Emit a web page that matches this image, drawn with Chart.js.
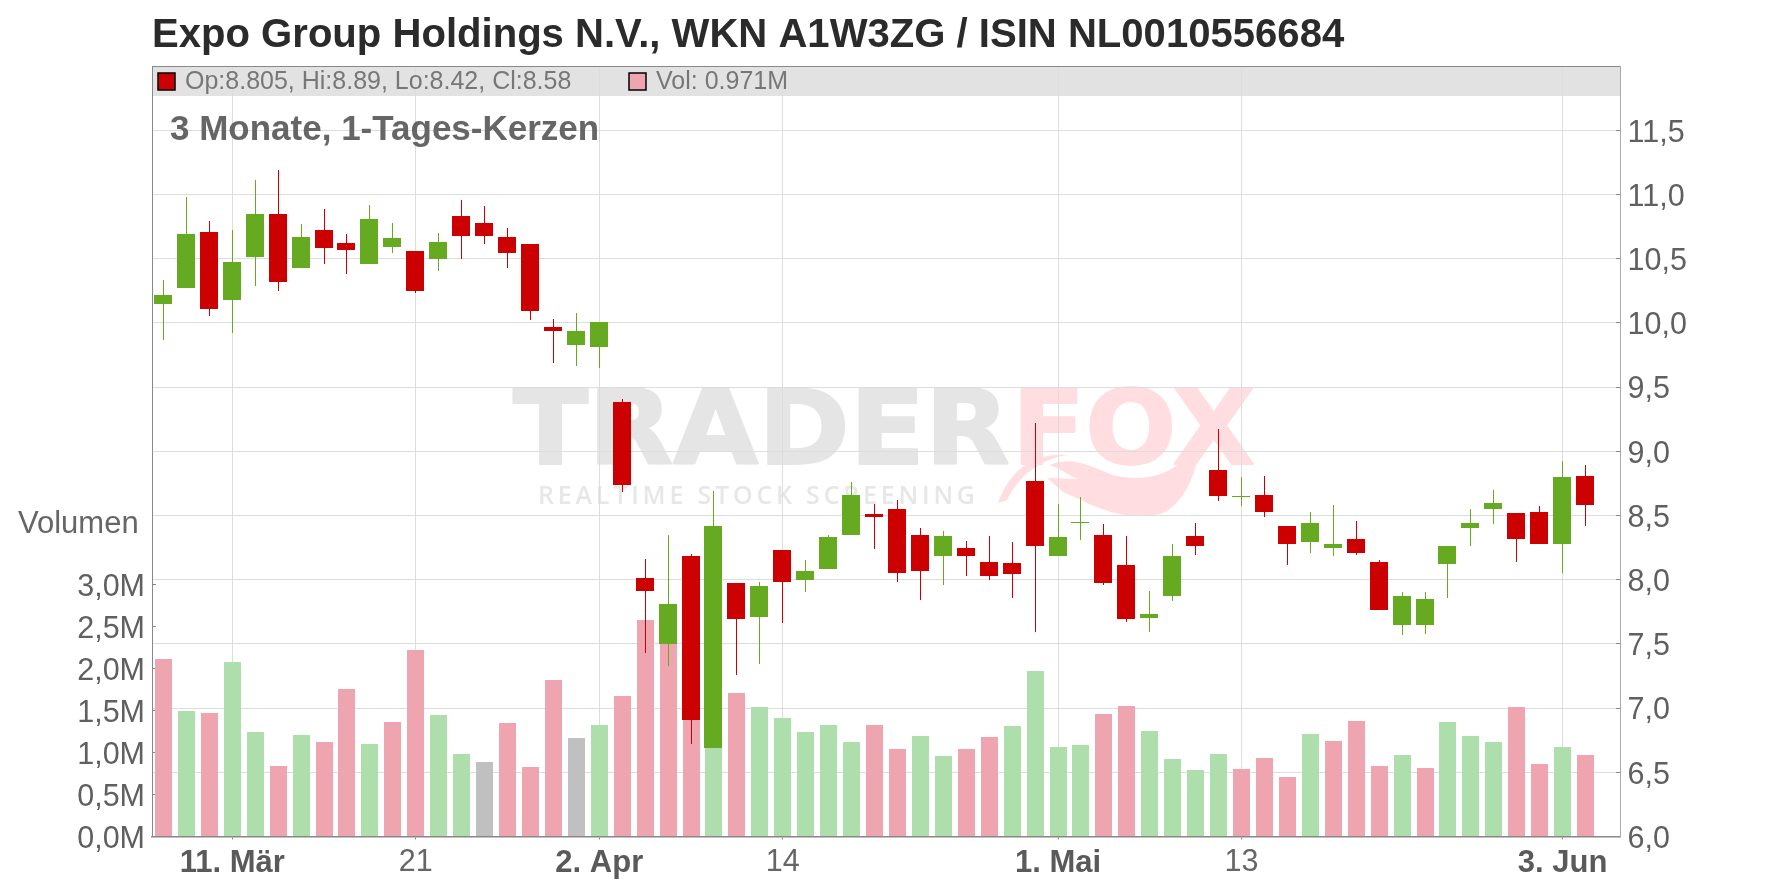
<!DOCTYPE html>
<html>
<head>
<meta charset="utf-8">
<title>Expo Group Holdings</title>
<script src="https://cdn.jsdelivr.net/npm/chart.js@4"></script>
<style>
  html, body { margin: 0; padding: 0; background: #fff; }
  #wrap { width: 1776px; height: 888px; }
</style>
</head>
<body>
<div id="wrap"><canvas id="c" width="1776" height="888"></canvas></div>
<script>
const titleText = 'Expo Group Holdings N.V., WKN A1W3ZG / ISIN NL0010556684';
const subTitle = '3 Monate, 1-Tages-Kerzen';
const legendPrice = 'Op:8.805, Hi:8.89, Lo:8.42, Cl:8.58';
const legendVol = 'Vol: 0.971M';

// one trading day per slot, the last slot stays empty
const tickSlots = [3, 11, 19, 27, 39, 47, 61];
const tickLabels = ['11. Mär', '21', '2. Apr', '14', '1. Mai', '13', '3. Jun'];
const boldLabels = ['11. Mär', '2. Apr', '1. Mai', '3. Jun'];
const slotCount = 64;

const opens = [10.15,10.27,10.71,10.18,10.51,10.85,10.43,10.72,10.62,10.46,10.59,10.56,10.50,10.83,10.78,10.67,
  10.61,9.97,9.83,9.81,9.38,8.01,7.50,8.18,6.69,7.97,7.71,8.23,8.00,8.08,8.35,8.51,
  8.55,8.35,8.18,8.25,8.14,8.13,8.77,8.18,8.44,8.35,8.11,7.70,7.87,8.34,8.85,8.64,
  8.66,8.42,8.29,8.25,8.32,8.14,7.65,7.65,8.12,8.40,8.55,8.52,8.53,8.28,8.805];
const highs = [10.33,10.98,10.79,10.72,11.11,11.19,10.77,10.89,10.69,10.92,10.78,10.56,10.70,10.96,10.91,10.74,
  10.61,10.03,10.08,10.01,9.41,8.16,8.35,8.20,8.69,7.97,7.98,8.23,8.15,8.35,8.76,8.59,
  8.62,8.40,8.38,8.30,8.34,8.29,9.22,8.59,8.64,8.43,8.34,7.91,8.28,8.44,9.17,8.80,
  8.81,8.42,8.53,8.58,8.46,8.15,7.90,7.90,8.26,8.55,8.70,8.52,8.57,8.92,8.89];
const lows = [9.87,10.27,10.05,9.92,10.29,10.25,10.43,10.46,10.38,10.46,10.54,10.23,10.40,10.50,10.61,10.43,
  10.02,9.69,9.66,9.65,8.68,7.43,7.33,6.72,6.69,7.26,7.34,7.66,7.90,8.08,8.35,8.24,
  7.98,7.84,7.96,8.03,8.00,7.86,7.59,8.18,8.31,7.96,7.67,7.59,7.83,8.19,8.61,8.57,
  8.49,8.11,8.21,8.18,8.19,7.76,7.57,7.58,7.86,8.26,8.43,8.14,8.28,8.05,8.42];
const closes = [10.22,10.69,10.11,10.47,10.85,10.32,10.67,10.58,10.57,10.81,10.66,10.25,10.63,10.68,10.68,10.54,
  10.09,9.94,9.94,10.01,8.74,7.91,7.81,6.91,8.42,7.69,7.95,7.98,8.07,8.33,8.66,8.49,
  8.05,8.07,8.34,8.18,8.03,8.04,8.26,8.33,8.45,7.97,7.69,7.73,8.18,8.26,8.65,8.65,
  8.53,8.28,8.44,8.28,8.21,7.76,7.87,7.85,8.26,8.44,8.60,8.32,8.28,8.80,8.58];

// volume in millions; hidden tops behind the big candles (22-24) are estimates
const volumes = [2.11,1.49,1.47,2.075,1.24,0.84,1.21,1.12,1.75,1.10,1.36,2.22,1.44,0.98,0.885,1.35,
  0.825,1.86,1.17,1.325,1.67,2.575,2.55,2.9,3.3,1.706,1.54,1.41,1.24,1.325,1.12,1.325,
  1.04,1.195,0.956,1.04,1.18,1.31,1.97,1.06,1.09,1.456,1.55,1.25,0.92,0.79,0.98,0.80,
  0.93,0.706,1.22,1.135,1.37,0.84,0.97,0.81,1.36,1.195,1.12,1.54,0.86,1.06,0.971];
const volumeTone = ['d','u','d','u','u','d','u','d','d','u','d','d','u','u','n','d',
  'd','d','n','u','d','d','d','d','u','d','u','u','u','u','u','d',
  'd','u','u','d','d','u','u','u','u','d','d','u','u','u','u','d',
  'd','d','u','d','d','d','u','d','u','u','u','d','d','u','d'];

const priceTicks = [6, 6.5, 7, 7.5, 8, 8.5, 9, 9.5, 10, 10.5, 11, 11.5];
const volumeTicks = [0, 0.5, 1, 1.5, 2, 2.5, 3];

const FONT = '"Liberation Sans"';
const RED = '#cc0000', GREEN = '#66aa22';
const toneColour = { d: '#efa5b0', u: '#addeab', n: '#c0c0c0' };

const categories = Array(slotCount).fill('');
tickSlots.forEach((s, i) => { categories[s] = tickLabels[i]; });

const candleColour = opens.map((o, i) => (closes[i] >= o ? GREEN : RED));
const comma = v => v.toFixed(1).replace('.', ',');

// snap bars to whole pixels so wicks stay one crisp pixel wide
const snapBars = {
  id: 'snapBars',
  afterDatasetsUpdate(chart) {
    chart.data.datasets.forEach((d, i) => {
      chart.getDatasetMeta(i).data.forEach(bar => {
        const odd = Math.round(bar.width) % 2 === 1;
        bar.x = Math.floor(bar.x) + (odd ? 0.5 : 0);
        bar.y = Math.round(bar.y);
        bar.base = Math.round(bar.base);
        if (bar.base === bar.y) bar.base = bar.y + 1;
      });
    });
  }
};

function wideText(ctx, text, x, y, stretch) {
  ctx.save();
  ctx.translate(x, y);
  ctx.scale(stretch, 1);
  ctx.strokeText(text, 0, 0);
  ctx.fillText(text, 0, 0);
  ctx.restore();
}

const backdrop = {
  id: 'backdrop',
  beforeDraw(chart) {
    const { ctx, chartArea: a } = chart;
    ctx.save();
    ctx.fillStyle = '#e2e2e2';
    ctx.fillRect(a.left, a.top, a.right - a.left, 30);

    // TraderFox watermark
    ctx.textBaseline = 'alphabetic';
    ctx.textAlign = 'left';
    ctx.lineJoin = 'round';
    ctx.lineWidth = 2;
    ctx.font = 'bold 103px "DejaVu Sans"';
    ctx.fillStyle = ctx.strokeStyle = '#e5e5e5';
    wideText(ctx, 'TRADER', 513, 464, 1.07);
    ctx.fillStyle = ctx.strokeStyle = '#ffdde1';
    wideText(ctx, 'FOX', 1012, 464, 1.04);
    ctx.font = '600 25px "Open Sans"';
    ctx.letterSpacing = '3.8px';
    ctx.fillStyle = '#e7e7e7';
    ctx.fillText('REALTIME STOCK SCREENING', 538, 504);
    ctx.letterSpacing = '0px';

    ctx.fillStyle = '#ffdde1';
    ctx.beginPath();
    ctx.moveTo(998, 503);
    ctx.bezierCurveTo(1010, 470, 1033, 453, 1067, 455);
    ctx.bezierCurveTo(1047, 458, 1022, 470, 1007, 500);
    ctx.closePath();
    ctx.fill();
    ctx.beginPath();
    ctx.moveTo(1050, 465);
    ctx.bezierCurveTo(1073, 455, 1093, 468, 1113, 475);
    ctx.bezierCurveTo(1140, 482, 1167, 477, 1187, 457);
    ctx.lineTo(1200, 440);
    ctx.bezierCurveTo(1197, 477, 1183, 503, 1163, 513);
    ctx.bezierCurveTo(1140, 520, 1113, 515, 1087, 503);
    ctx.bezierCurveTo(1077, 498, 1070, 495, 1063, 492);
    ctx.lineTo(1047, 478);
    ctx.lineTo(1077, 479);
    ctx.lineTo(1057, 468);
    ctx.closePath();
    ctx.fill();
    ctx.restore();
  },
  afterDraw(chart) {
    const { ctx, chartArea: a } = chart;
    ctx.save();
    ctx.strokeStyle = '#888';
    ctx.lineWidth = 1;
    ctx.beginPath();
    ctx.moveTo(a.left, a.top + 0.5);
    ctx.lineTo(a.right, a.top + 0.5);
    ctx.stroke();

    ctx.textBaseline = 'middle';
    ctx.textAlign = 'left';
    ctx.font = '25px ' + FONT;
    ctx.fillStyle = '#777';
    ctx.fillText(legendPrice, 185, 82);
    ctx.fillText(legendVol, 656, 82);

    ctx.lineWidth = 1.5;
    ctx.strokeStyle = '#000';
    ctx.fillStyle = RED;
    ctx.fillRect(158, 73, 17, 17);
    ctx.strokeRect(158, 73, 17, 17);
    ctx.fillStyle = toneColour.d;
    ctx.fillRect(629, 73, 17, 17);
    ctx.strokeRect(629, 73, 17, 17);

    ctx.font = 'bold 35px ' + FONT;
    ctx.fillStyle = '#666';
    ctx.fillText(subTitle, 170, 130);
    ctx.font = '31px ' + FONT;
    ctx.fillText('Volumen', 18, 524);
    ctx.restore();
  }
};

const wickData = lows.map((l, i) => [l, highs[i]]);
const bodyData = opens.map((o, i) => [o, closes[i]]);

new Chart(document.getElementById('c').getContext('2d'), {
  type: 'bar',
  data: {
    labels: categories,
    datasets: [
      { label: 'Body', data: bodyData, yAxisID: 'yPrice', grouped: false, order: 1, barThickness: 18,
        backgroundColor: candleColour, inflateAmount: 0 },
      { label: 'Wick', data: wickData, yAxisID: 'yPrice', grouped: false, order: 2, barThickness: 1,
        backgroundColor: candleColour, inflateAmount: 0 },
      { label: 'Volumen', data: volumes, yAxisID: 'yVol', grouped: false, order: 3, barThickness: 17,
        backgroundColor: volumeTone.map(t => toneColour[t]), inflateAmount: 0 }
    ]
  },
  options: {
    responsive: false,
    animation: false,
    layout: { padding: 0 },
    plugins: {
      legend: { display: false },
      tooltip: { enabled: false },
      title: {
        display: true, text: titleText, align: 'start', fullSize: false, color: '#2b2b2b',
        font: { family: FONT, size: 40.1, weight: 'bold', lineHeight: 1.2 },
        padding: { top: 12, bottom: 5.9 }
      }
    },
    scales: {
      x: {
        type: 'category', offset: true,
        afterBuildTicks: s => { s.ticks = s.ticks.filter(t => tickSlots.includes(t.value)); },
        afterFit: s => { s.height = 51.6; },
        grid: { color: '#ddd', lineWidth: 1, offset: false, tickColor: '#888', tickLength: 3 },
        border: { color: '#888', width: 1.5 },
        ticks: {
          autoSkip: false, maxRotation: 0, minRotation: 0, padding: 5,
          color: ctx => (boldLabels.includes(ctx.tick.label) ? '#5a5a5a' : '#666'),
          font: ctx => (boldLabels.includes(ctx.tick.label)
            ? { family: FONT, size: 31, weight: 'bold' }
            : { family: FONT, size: 30.5, weight: 'normal' })
        }
      },
      yPrice: {
        position: 'right', min: 6, max: 12,
        afterBuildTicks: s => { s.ticks = priceTicks.map(v => ({ value: v })); },
        afterFit: s => { s.width = 156; },
        grid: { color: '#ddd', lineWidth: 1, tickColor: '#888', tickLength: -4 },
        border: { color: '#aaa', width: 1 },
        ticks: { padding: 11.5, labelOffset: 3, color: '#606060', font: { family: FONT, size: 30.5 }, callback: v => comma(v) }
      },
      yVol: {
        position: 'left', min: 0, max: 9.17,
        afterBuildTicks: s => { s.ticks = volumeTicks.map(v => ({ value: v })); },
        afterFit: s => { s.width = 152; },
        grid: { drawOnChartArea: false, tickColor: '#888', tickLength: -4 },
        border: { color: '#888', width: 1 },
        ticks: { padding: 11, labelOffset: 3, color: '#606060', font: { family: FONT, size: 30.5 }, callback: v => comma(v) + 'M' }
      }
    }
  },
  plugins: [snapBars, backdrop]
});
</script>
</body>
</html>
